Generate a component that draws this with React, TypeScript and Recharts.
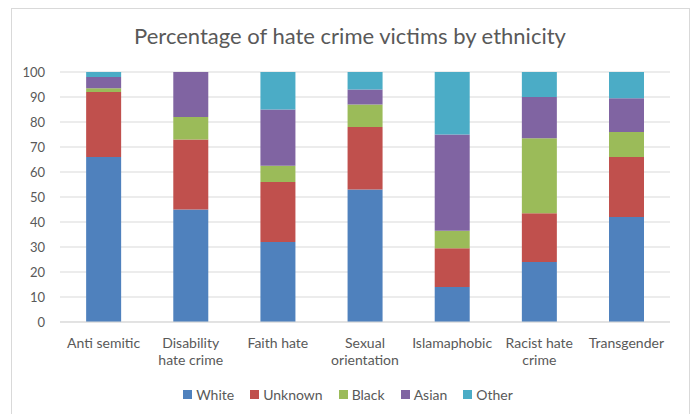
import React from "react";
import { BarChart, Bar, XAxis, YAxis, CartesianGrid, Legend } from "recharts";

const categories = [
  "Anti semitic",
  "Disability hate crime",
  "Faith hate",
  "Sexual orientation",
  "Islamaphobic",
  "Racist hate crime",
  "Transgender",
];
// how each category label wraps under the axis
const categoryLines = [
  ["Anti semitic"],
  ["Disability", "hate crime"],
  ["Faith hate"],
  ["Sexual", "orientation"],
  ["Islamaphobic"],
  ["Racist hate", "crime"],
  ["Transgender"],
];

const white = [66, 45, 32, 53, 14, 24, 42];
const unknown = [26, 28, 24, 25, 15.5, 19.5, 24];
const black = [1.5, 9, 6.5, 9, 7, 30, 10];
const asian = [4.5, 18, 22.5, 6, 38.5, 16.5, 13.5];
const other = [2, 0, 15, 7, 25, 10, 10.5];

const yTicks = [0, 10, 20, 30, 40, 50, 60, 70, 80, 90, 100];

const series = [
  { key: "White", values: white, color: "#4F81BD" },
  { key: "Unknown", values: unknown, color: "#C0504D" },
  { key: "Black", values: black, color: "#9BBB59" },
  { key: "Asian", values: asian, color: "#8064A2" },
  { key: "Other", values: other, color: "#4BACC6" },
];

const data = categories.map((name, i) => {
  const row: any = { name };
  series.forEach((s) => (row[s.key] = s.values[i]));
  return row;
});

const font = "Lato, 'Open Sans', sans-serif";
const textColor = "#595959";

const CategoryTick = (props: any) => {
  const { x, y, index } = props;
  const lines = categoryLines[index] || [];
  return (
    <text x={x} y={y} textAnchor="middle" fill={textColor} fontSize={14} fontFamily={font}>
      {lines.map((l, i) => (
        <tspan key={i} x={x} dy={i === 0 ? 18 : 17}>
          {l}
        </tspan>
      ))}
    </text>
  );
};

const LegendContent = () => (
  <div style={{ display: "flex", justifyContent: "center", fontFamily: font, fontSize: 14, color: textColor, paddingLeft: 26 }}>
    {series.map((s) => (
      <div key={s.key} style={{ display: "flex", alignItems: "center", margin: "0 8px" }}>
        <span style={{ width: 9, height: 9, background: s.color, marginRight: 4, display: "inline-block" }} />
        {s.key}
      </div>
    ))}
  </div>
);

export default function App() {
  return (
    <div style={{ position: "absolute", left: 0, top: 0, width: 694, height: 414, overflow: "hidden", background: "#fff" }}>
      <div
        style={{
          position: "absolute",
          left: 11,
          top: 8,
          width: 677,
          height: 430,
          border: "1px solid #D9D9D9",
        }}
      />
      <div
        style={{
          position: "absolute",
          top: 22,
          left: 0,
          width: 700,
          textAlign: "center",
          fontFamily: font,
          fontSize: 22,
          color: textColor,
        }}
      >
        Percentage of hate crime victims by ethnicity
      </div>
      <div style={{ position: "absolute", left: 0, top: 0 }}>
        <BarChart
          width={694}
          height={414}
          data={data}
          margin={{ top: 72, right: 24, left: 0, bottom: 8 }}
          barCategoryGap="30%"
        >
          <CartesianGrid vertical={false} stroke="#D9D9D9" />
          <XAxis
            dataKey="name"
            tick={<CategoryTick />}
            tickLine={false}
            axisLine={{ stroke: "#D9D9D9" }}
            height={64}
            interval={0}
          />
          <YAxis
            domain={[0, 100]}
            ticks={yTicks}
            width={60}
            tickLine={false}
            axisLine={false}
            tickMargin={9}
            tick={{ fill: textColor, fontSize: 13, fontFamily: font }}
          />
          <Legend verticalAlign="bottom" height={20} content={<LegendContent />} />
          {series.map((s) => (
            <Bar key={s.key} dataKey={s.key} stackId="a" fill={s.color} isAnimationActive={false} />
          ))}
        </BarChart>
      </div>
    </div>
  );
}
